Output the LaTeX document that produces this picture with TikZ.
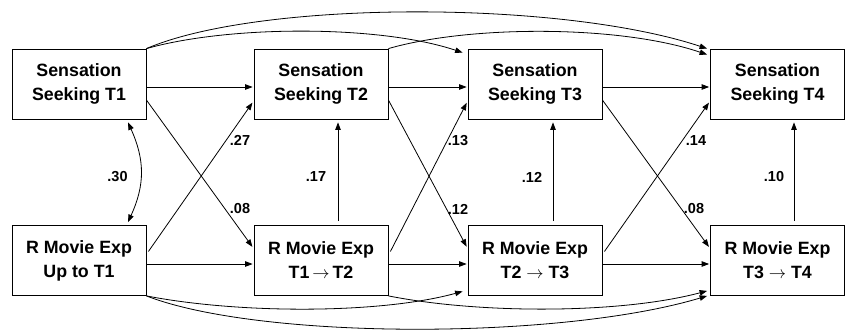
\documentclass[tikz,border=0pt]{standalone}
\usepackage{fontspec}
\setmainfont{Liberation Sans}
\usetikzlibrary{arrows.meta}
\begin{document}
\begin{tikzpicture}[x=1pt,y=-1pt,
  box/.style={draw, line width=0.8pt, minimum width=134pt, minimum height=70pt, inner sep=0pt, align=center, font=\bfseries\fontsize{17.8}{24}\selectfont},
  conn/.style={line width=0.8pt, -{Triangle[length=7.5pt,width=5.5pt]}},
  lab/.style={font=\bfseries\fontsize{14.5}{16}\selectfont, inner sep=0pt}]
\useasboundingbox (0,0) rectangle (845,329);
\node[box] (s1) at (79,84) {Sensation\\Seeking T1};
\node[box] (s2) at (321,84) {Sensation\\Seeking T2};
\node[box] (s3) at (535,84) {Sensation\\Seeking T3};
\node[box] (s4) at (777.5,84) {Sensation\\Seeking T4};
\node[box] (r1) at (79,260.5) {R Movie Exp\\Up to T1};
\node[box] (r2) at (321,260.5) {R Movie Exp\\T1\,$\rightarrow$\,T2};
\node[box] (r3) at (535,260.5) {R Movie Exp\\T2 $\rightarrow$ T3};
\node[box] (r4) at (777.5,260.5) {R Movie Exp\\T3 $\rightarrow$ T4};
% horizontal
\draw[conn, shorten >=1pt] ([yshift=-3pt]s1.east) -- ([yshift=-3pt]s2.west);
\draw[conn, shorten >=1pt] ([yshift=-3pt]s2.east) -- ([yshift=-3pt]s3.west);
\draw[conn, shorten >=1pt] ([yshift=-3pt]s3.east) -- ([yshift=-3pt]s4.west);
\draw[conn, shorten >=1pt] ([yshift=-3.5pt]r1.east) -- ([yshift=-3.5pt]r2.west);
\draw[conn, shorten >=1pt] ([yshift=-3.5pt]r2.east) -- ([yshift=-3.5pt]r3.west);
\draw[conn, shorten >=1pt] ([yshift=-3.5pt]r3.east) -- ([yshift=-3.5pt]r4.west);
% cross
\draw[conn, shorten >=2pt] ([yshift=-16pt]s1.east) -- ([yshift=12pt]r2.west);
\draw[conn, shorten >=2pt] ([xshift=2pt,yshift=9pt]r1.east) -- ([yshift=-17pt]s2.west);
\draw[conn, shorten >=2pt] ([yshift=-16pt]s2.east) -- ([yshift=12pt]r3.west);
\draw[conn, shorten >=2pt] ([xshift=2pt,yshift=9pt]r2.east) -- ([yshift=-17pt]s3.west);
\draw[conn, shorten >=2pt] ([yshift=-16pt]s3.east) -- ([yshift=12pt]r4.west);
\draw[conn, shorten >=2pt] ([xshift=2pt,yshift=9pt]r3.east) -- ([yshift=-17pt]s4.west);
% vertical
\draw[conn, shorten >=3pt, shorten <=4pt] ([xshift=17pt]r2.north) -- ([xshift=17pt]s2.south);
\draw[conn, shorten >=3pt, shorten <=4pt] ([xshift=18pt]r3.north) -- ([xshift=18pt]s3.south);
\draw[conn, shorten >=3pt, shorten <=4pt] ([xshift=16.5pt]r4.north) -- ([xshift=16.5pt]s4.south);
% correlation
\draw[line width=0.8pt, {Triangle[length=7.5pt,width=5.5pt]}-{Triangle[length=7.5pt,width=5.5pt]}]
  ([xshift=49pt,yshift=-3pt]s1.south) .. controls (145,160) and (145,185) .. ([xshift=49pt,yshift=3pt]r1.north);
% top curves
\draw[conn] (s1.north east) .. controls (260,0) and (560,0) .. ([xshift=-3pt]s4.north west);
\draw[conn] (s1.north east) .. controls (230,25) and (380,25) .. ([xshift=-5pt,yshift=-4pt]s3.north west);
\draw[conn] (s2.north east) .. controls (470,25) and (620,25) .. ([xshift=-3pt,yshift=-6pt]s4.north west);
% bottom curves
\draw[conn] (r1.south east) .. controls (240,314) and (380,314) .. ([xshift=-5pt,yshift=4.5pt]r3.south west);
\draw[conn] (r1.south east) .. controls (260,340) and (560,340) .. ([xshift=-3pt]r4.south west);
\draw[conn] (r2.south east) .. controls (480,314) and (620,314) .. ([xshift=-3pt,yshift=5pt]r4.south west);
% labels
\node[lab] (l1) at (240,140) {.27};
\node[lab] (l2) at (240,209) {.08};
\node[lab] (l3) at (316,177) {.17};
\node[lab] (l4) at (117.5,177) {.30};
\node[lab] (l5) at (458,141) {.13};
\node[lab] (l6) at (458,209) {.12};
\node[lab] (l7) at (532,177) {.12};
\node[lab] (l8) at (696,141) {.14};
\node[lab] (l9) at (694,209) {.08};
\node[lab] (l10) at (774,177) {.10};
\end{tikzpicture}
\end{document}
